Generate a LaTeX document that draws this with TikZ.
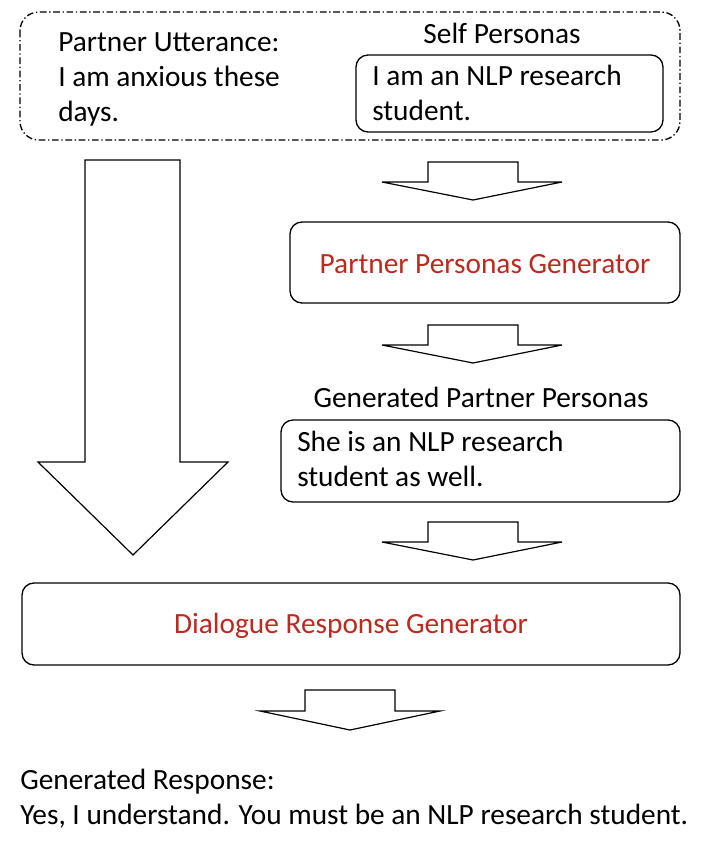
\documentclass[tikz,border=0pt]{standalone}
\usepackage{fontspec}
\setmainfont{Carlito}
\definecolor{gred}{RGB}{190,40,30}
\begin{document}
\begin{tikzpicture}[x=0.75pt,y=-0.75pt,
  box/.style={draw,rounded corners=9pt,line width=1pt},
  arr/.style={draw,line width=0.9pt,fill=white,line join=miter},
  txt/.style={font=\fontsize{22}{26.5}\selectfont,inner sep=0pt,align=left}]
\useasboundingbox (0,0) rectangle (710,860);
\draw[box,dash pattern=on 5pt off 2pt on 1pt off 2pt,rounded corners=14pt] (20,12) rectangle (680,140);
\node[txt,anchor=north west] (pu) at (58,32) {Partner Utterance:\\I am anxious these\\days.};
\node[txt] (sp) at (502,33) {Self Personas};
\draw[box] (356,55) rectangle (663,132);
\node[txt,anchor=north west] (spt) at (372,65) {I am an NLP research\\student.};
% big arrow
\draw[arr] (85,160) -- (180,160) -- (180,462) -- (228,462) -- (133,555) -- (38,462) -- (85,462) -- cycle;
% small arrows
\foreach \y in {162,325,522}{
\draw[arr] (428,\y) -- (518,\y) -- (518,\y+20) -- (562,\y+20) -- (473,\y+38) -- (382,\y+20) -- (428,\y+20) -- cycle;}
\draw[arr] (305,690) -- (395,690) -- (395,711) -- (440,711) -- (350,730) -- (260,711) -- (305,711) -- cycle;
\draw[box] (290,222) rectangle (680,303);
\node[txt,text=gred] (ppg) at (485,264) {Partner Personas Generator};
\node[txt] (gpp) at (481,397) {Generated Partner Personas};
\draw[box] (281,420) rectangle (680,502);
\node[txt,anchor=north west] (gppt) at (297,431) {She is an NLP research\\student as well.};
\draw[box] (22,583) rectangle (680,665);
\node[txt,text=gred] (drg) at (351,626) {Dialogue Response Generator};
\node[txt,anchor=north west] (gr) at (20,769) {Generated Response:\\Yes, I understand. You must be an NLP research student.};
\end{tikzpicture}
\end{document}
